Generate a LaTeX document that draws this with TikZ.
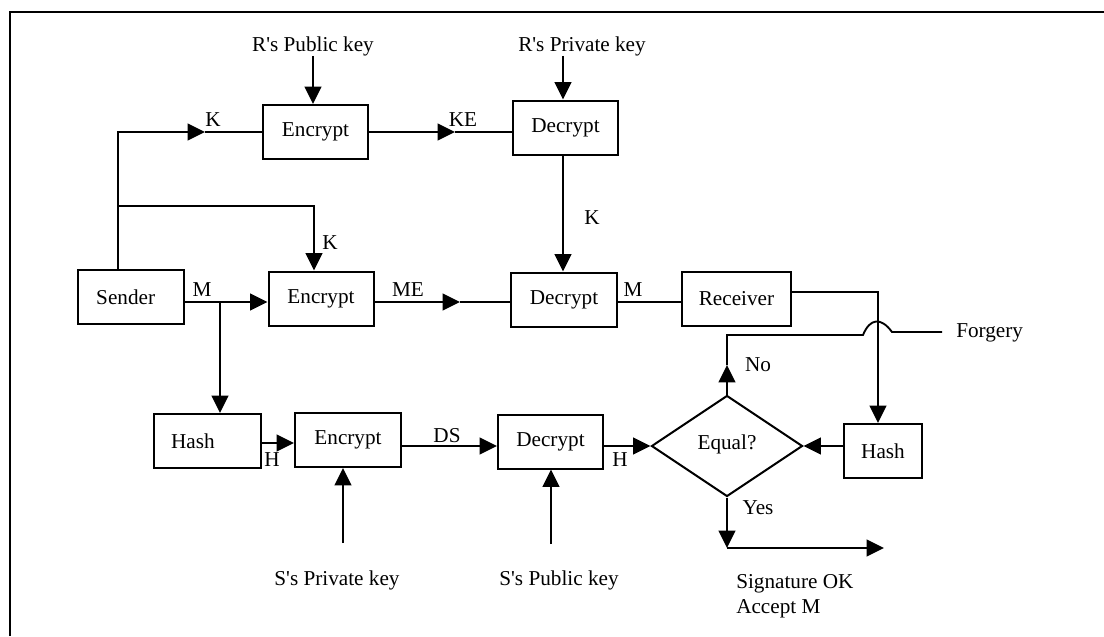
\documentclass[tikz,border=0pt]{standalone}
\usepackage{fontspec}
\setmainfont{Liberation Serif}
\usetikzlibrary{arrows.meta,shapes.geometric}
\begin{document}
\begin{tikzpicture}[x=0.75pt,y=-0.75pt,
  every node/.style={font=\fontsize{15.9}{18}\selectfont},
  box/.style={draw,line width=1.5pt,minimum width=#1,minimum height=40.5pt,inner sep=0pt},
  box/.default=78.75pt,
  conn/.style={line width=1.4pt},
  arr/.style={conn,-{Triangle[length=13pt,width=12.5pt]}},
  lbl/.style={inner sep=0pt}]
\useasboundingbox (0,0) rectangle (1104,636);
\draw[line width=1.8pt] (10,636) -- (10,12) -- (1104,12);

% boxes
\node[box] (enc1) at (315.5,132) {Encrypt};
\node[box] (dec1) at (565.5,127.5) {Decrypt};
\node[box=79.5pt] (sender) at (131,297) {\hspace*{-8pt}Sender};
\node[box] (enc2) at (321,298.5) {Encrypt};
\node[box=79.5pt] (dec2) at (564,299.5) {Decrypt};
\node[box=81.75pt] (recv) at (736.5,299) {Receiver};
\node[box=80.25pt] (hash1) at (207.5,441) {\hspace*{-22pt}Hash};
\node[box=79.5pt] (enc3) at (348,440) {Encrypt};
\node[box] (dec3) at (550.5,441.5) {Decrypt};
\node[box=58.5pt] (hash2) at (883,451) {Hash};
\node[draw,line width=1.5pt,diamond,inner sep=0pt,minimum width=113.25pt,minimum height=75.75pt] (eq) at (727,446) {\raisebox{6pt}{Equal?}};

% key texts
\node[lbl] (pubR) at (313,46) {R\textquotesingle s Public key};
\node[lbl] (privR) at (582,46) {R\textquotesingle s Private key};
\node[lbl] (spriv) at (337,580) {S\textquotesingle s Private key};
\node[lbl] (spub) at (559,580) {S\textquotesingle s Public key};
\node[lbl,anchor=west] (forg) at (956,333) {Forgery};
\node[lbl,anchor=base west] (sig1) at (736,588) {Signature OK};
\node[lbl,anchor=base west] (sig2) at (736,613) {Accept M};

% connector labels
\node[lbl] (lK1) at (213,120) {K};
\node[lbl] (lKE) at (463,120) {KE};
\node[lbl] (lK2) at (330,243) {K};
\node[lbl] (lK3) at (592,218) {K};
\node[lbl] (lM1) at (202,290) {M};
\node[lbl] (lME) at (408,290) {ME};
\node[lbl] (lM2) at (633,290) {M};
\node[lbl] (lH1) at (272,460) {H};
\node[lbl] (lDS) at (447,436) {DS};
\node[lbl] (lH2) at (620,460) {H};
\node[lbl] (lNo) at (758,365) {No};
\node[lbl] (lYes) at (758,508) {Yes};

% coordinates
\coordinate (sk) at (118,132);
\coordinate (ktip) at (205,132);
\coordinate (sk2) at (118,206);
\coordinate (kc) at (314,206);
\coordinate (ketip) at (455,132);
\coordinate (mj) at (220,302);
\coordinate (metip) at (460,302);
\coordinate (rh) at (878,292);
\coordinate (notip) at (727,365);
\coordinate (nocorner) at (727,335);
\coordinate (hopa) at (863,335);
\coordinate (hopb) at (892,332);
\coordinate (fend) at (942,332);
\coordinate (yescorner) at (727,548);
\coordinate (yesend) at (884,548);
\coordinate (sprivs) at (343,543);
\coordinate (spubs) at (551,544);

% top key exchange
\draw[arr] (pubR.south) -- (pubR.south |- enc1.north);
\draw[arr] (privR.south -| 563,0) -- (563,0 |- dec1.north);
\draw[arr] (sender.north -| sk) -- (sk) -- (ktip);
\draw[conn] (ktip) -- (enc1.west);
\draw[arr] (enc1.east) -- (ketip);
\draw[conn] (ketip) -- (ketip -| dec1.west);
\draw[arr] (sk2) -- (kc) -- (kc |- enc2.north);
\draw[arr] (dec1.south -| 563,0) -- (563,0 |- dec2.north);

% message path
\draw[conn] (sender.east |- mj) -- (mj);
\draw[arr] (mj) -- (mj -| enc2.west);
\draw[arr] (enc2.east |- metip) -- (metip);
\draw[conn] (metip) -- (metip -| dec2.west);
\draw[conn] (dec2.east |- mj) -- (recv.west |- mj);
\draw[arr] (recv.east |- rh) -- (rh) -- (rh |- hash2.north);

% signature path
\draw[arr] (mj) -- (mj |- hash1.north);
\draw[arr] (hash1.east |- 0,443) -- (enc3.west |- 0,443);
\draw[arr] (sprivs) -- (sprivs |- enc3.south);
\draw[arr] (enc3.east |- 0,446) -- (dec3.west |- 0,446);
\draw[arr] (spubs) -- (spubs |- dec3.south);
\draw[arr] (dec3.east |- eq.west) -- (eq.west);
\draw[arr] (hash2.west |- eq.east) -- (eq.east);

% decision outputs
\draw[arr] (eq.north) -- (notip);
\draw[conn] (notip) -- (nocorner) -- (hopa) .. controls (870,318) and (881,317) .. (hopb) -- (fend);
\draw[arr] (eq.south) -- (yescorner);
\draw[arr] (yescorner) -- (yesend);
\end{tikzpicture}
\end{document}
